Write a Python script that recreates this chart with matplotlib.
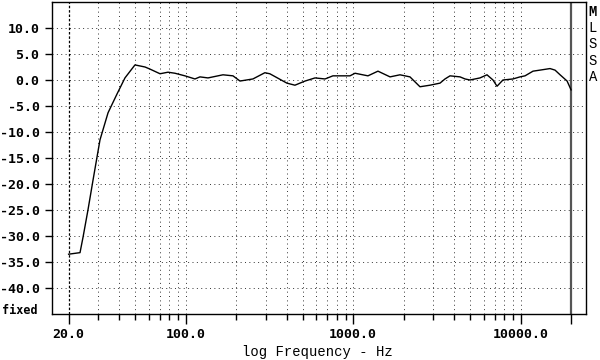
import matplotlib
matplotlib.use("Agg")
import matplotlib.pyplot as plt
import numpy as np

# frequency response
freq = [20, 23.4, 24.4, 26.1, 28.0, 30.8, 34.4, 38.9, 43.4, 49.8, 57.2, 61.2,
        70.3, 78.4, 86.3, 99, 113.6, 121.7, 135.9, 167, 191.6, 211, 252, 297,
        318, 402, 449, 516, 592, 679, 757, 957, 1026, 1225, 1406, 1660, 1903,
        2183, 2505, 2876, 3300, 3534, 3786, 4345, 4655, 4982, 5717, 6294, 6836,
        7224, 7838, 8995, 9910, 10617, 11851, 13040, 14970, 16040, 17190,
        18930, 20000]
level = [-33.5, -33.2, -30.2, -25.0, -19.2, -11.5, -6.3, -2.7, 0.4, 2.9, 2.5,
         2.1, 1.2, 1.5, 1.3, 0.8, 0.2, 0.6, 0.4, 1.0, 0.8, -0.2, 0.2, 1.4, 1.2,
         -0.6, -1.0, -0.2, 0.4, 0.2, 0.8, 0.8, 1.3, 0.8, 1.7, 0.6, 1.0, 0.6,
         -1.3, -1.0, -0.6, 0.2, 0.8, 0.6, 0.2, 0.0, 0.4, 1.0, 0.0, -1.2, 0.0,
         0.2, 0.6, 0.8, 1.7, 1.9, 2.2, 1.9, 1.0, -0.2, -1.9]

y_ticks = [10, 5, 0, -5, -10, -15, -20, -25, -30, -35, -40]
x_label_ticks = [20, 100, 1000, 10000]
minor_grid = [30, 40, 50, 60, 70, 80, 90, 100, 200, 300, 400, 500, 600, 700,
              800, 900, 1000, 2000, 3000, 4000, 5000, 6000, 7000, 8000, 9000,
              10000]
side_text = ["M", "L", "S", "S", "A"]

mono = "Liberation Mono"
bold_mono = "DejaVu Sans Mono"

fig = plt.figure(figsize=(6, 3.6), dpi=100)
ax = fig.add_axes([52 / 600, 1 - 314 / 360, 534 / 600, 312 / 360])
ax.set_xscale("log")
ax.set_xlim(15.92, 24550)
ax.set_ylim(-45, 15)

for y in y_ticks:
    ax.axhline(y, color="#333333", lw=0.7, ls=(0, (1, 3.5)), zorder=1)
for f in minor_grid:
    ax.axvline(f, color="#333333", lw=0.7, ls=(0, (1, 3.5)), zorder=1)
ax.axvline(20, color="black", lw=0.9, ls=(0, (2, 1.5)), zorder=1)
ax.axvline(20000, color="#555555", lw=1.6, zorder=2)

ax.plot(freq, level, color="black", lw=1.0, zorder=3)

ax.set_yticks(y_ticks)
ax.set_yticklabels(["%.1f" % v for v in y_ticks], fontfamily=bold_mono,
                   fontweight="bold", fontsize=9.5)
ax.set_xticks(x_label_ticks + [20000])
ax.set_xticklabels(["%.1f" % v for v in x_label_ticks] + [""],
                   fontfamily=bold_mono, fontweight="bold", fontsize=9.5)
ax.set_xticks([f for f in minor_grid if f not in x_label_ticks], minor=True)
ax.xaxis.set_minor_formatter(matplotlib.ticker.NullFormatter())
ax.tick_params(axis="x", which="major", length=7, width=1, pad=3)
ax.tick_params(axis="x", which="minor", length=4, width=1)
ax.tick_params(axis="y", which="major", length=5, width=1, pad=4)
ax.tick_params(axis="y", which="minor", length=0)
for s in ax.spines.values():
    s.set_linewidth(1)

fig.text(317 / 600, 1 - 352 / 360, "log Frequency - Hz", fontfamily=mono,
         fontsize=10, ha="center", va="center")
fig.text(2 / 600, 1 - 311 / 360, "fixed", fontfamily=bold_mono, fontsize=8.5,
         fontweight="bold", va="center", ha="left")
for i, ch in enumerate(side_text):
    fig.text(593 / 600, 1 - (12 + 16.2 * i) / 360, ch, fontfamily=mono,
             fontsize=10, fontweight="bold" if i == 0 else "normal",
             ha="center", va="center")

fig.savefig("out.png", dpi=100)
